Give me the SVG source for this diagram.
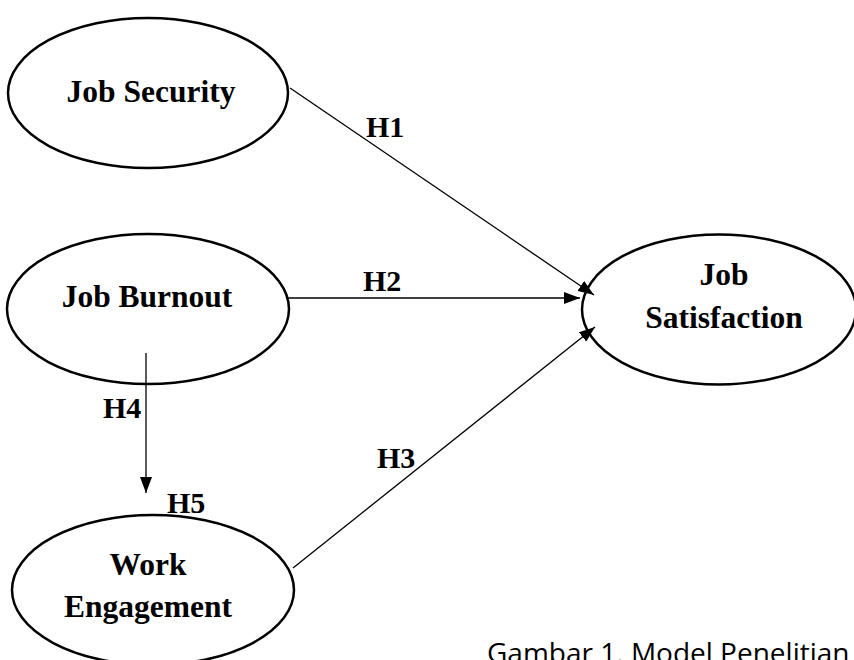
<svg xmlns="http://www.w3.org/2000/svg" width="854" height="660" viewBox="0 0 854 660">
<style>
.node ellipse{fill:#fff;stroke:#000;stroke-width:2.5}
.lbl{font-family:"Liberation Serif","Times New Roman",serif;font-weight:bold;font-size:31.5px;fill:#000;text-anchor:middle}
.h{font-family:"Liberation Serif","Times New Roman",serif;font-weight:bold;font-size:30px;fill:#000}
.edge{stroke:#000;stroke-width:1.3;fill:none;marker-end:url(#arr)}
.cap{font-family:"Open Sans","Noto Sans",sans-serif;font-size:28px;fill:#000}
</style>
<defs>
<marker id="arr" viewBox="0 0 16 12" refX="16" refY="6" markerWidth="16" markerHeight="12" markerUnits="userSpaceOnUse" orient="auto">
<path d="M0,0 L16,6 L0,12 z" fill="#000"/>
</marker>
</defs>
<rect width="854" height="660" fill="#fff"/>
<g id="node-job-security" class="node">
<ellipse cx="148" cy="93" rx="140" ry="75"/>
<text class="lbl" x="151" y="102">Job Security</text>
</g>
<g id="node-job-burnout" class="node">
<ellipse cx="148" cy="309" rx="141" ry="75"/>
<text class="lbl" x="147" y="307">Job Burnout</text>
</g>
<g id="node-job-satisfaction" class="node">
<ellipse cx="719" cy="309.5" rx="137" ry="75"/>
<text class="lbl" x="724" y="285">Job</text>
<text class="lbl" x="724" y="328">Satisfaction</text>
</g>
<g id="node-work-engagement" class="node">
<ellipse cx="153" cy="590" rx="141" ry="75"/>
<text class="lbl" x="148" y="575">Work</text>
<text class="lbl" x="148" y="617">Engagement</text>
</g>
<g id="connectors">
<line class="edge" x1="290" y1="88" x2="594" y2="295"/>
<line class="edge" x1="288" y1="298" x2="580" y2="298"/>
<line class="edge" x1="293" y1="568" x2="595" y2="327"/>
<line class="edge" x1="146" y1="353" x2="146" y2="493"/>
</g>
<g id="edge-labels">
<text class="h" x="366" y="137">H1</text>
<text class="h" x="363" y="291">H2</text>
<text class="h" x="377" y="468">H3</text>
<text class="h" x="103" y="418">H4</text>
<text class="h" x="167" y="513">H5</text>
</g>
<text class="cap" x="487" y="663">Gambar 1. Model Penelitian</text>
</svg>
